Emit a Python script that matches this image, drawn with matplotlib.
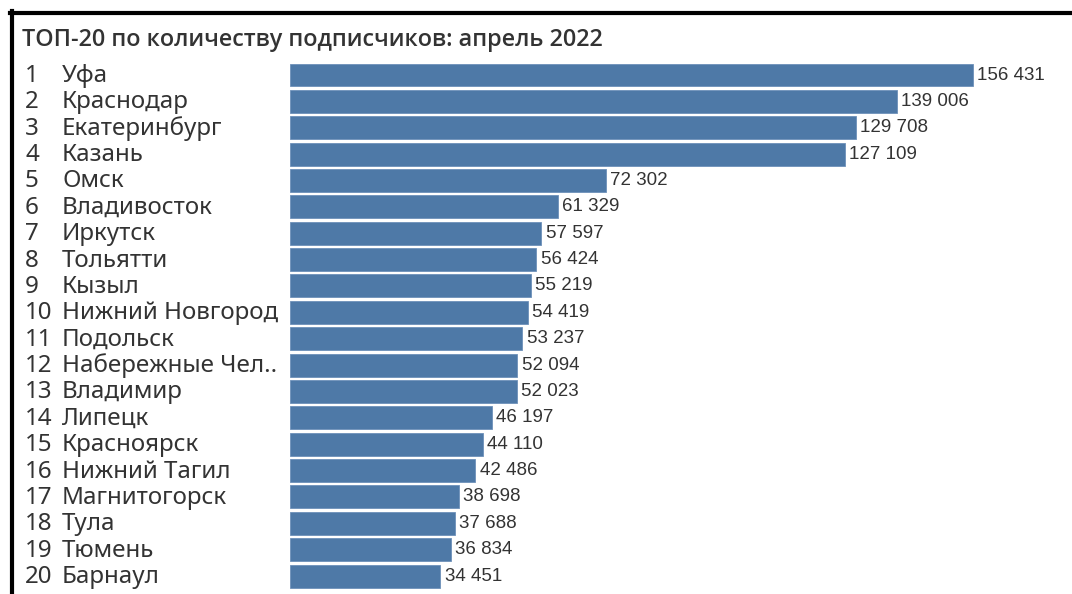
import matplotlib
matplotlib.use("Agg")
import matplotlib.pyplot as plt
from matplotlib.lines import Line2D

# данные
ranks = list(range(1, 21))
cities = ["Уфа", "Краснодар", "Екатеринбург", "Казань", "Омск", "Владивосток",
          "Иркутск", "Тольятти", "Кызыл", "Нижний Новгород", "Подольск",
          "Набережные Чел..", "Владимир", "Липецк", "Красноярск", "Нижний Тагил",
          "Магнитогорск", "Тула", "Тюмень", "Барнаул"]
subscribers = [156431, 139006, 129708, 127109, 72302, 61329, 57597, 56424, 55219,
               54419, 53237, 52094, 52023, 46197, 44110, 42486, 38698, 37688,
               36834, 34451]
title = "ТОП-20 по количеству подписчиков: апрель 2022"

W, H = 1072, 594
BAR_COLOR = "#4e79a7"
TEXT_COLOR = "#333333"
LABEL_FONT = ["Noto Sans", "DejaVu Sans"]
TITLE_FONT = ["Open Sans", "DejaVu Sans"]
VALUE_FONT = ["Liberation Sans Narrow", "Liberation Sans", "DejaVu Sans"]

fig = plt.figure(figsize=(W / 100, H / 100), dpi=100)
fig.patch.set_facecolor("white")

# ось в пикселях: бары от x=290, первый бар заканчивается на x=973
ax_left, ax_right = 290, 1072
row_top, row_step = 75 - 26.37 / 2, 26.37
ax_top = row_top
ax_bottom = row_top + row_step * len(cities)
ax = fig.add_axes([ax_left / W, 1 - ax_bottom / H,
                   (ax_right - ax_left) / W, (ax_bottom - ax_top) / H])

ypos = list(range(len(cities)))
ax.barh(ypos, subscribers, height=0.87, color=BAR_COLOR,
        edgecolor="#6d90b9", linewidth=0.6)
ax.set_xlim(0, subscribers[0] * (ax_right - ax_left) / (973 - 290))
ax.set_ylim(len(cities) - 0.5, -0.5)
ax.axis("off")

# подписи значений
for y, v in zip(ypos, subscribers):
    ax.annotate(f"{v:,}".replace(",", " "), (v, y), xytext=(3, 0),
                textcoords="offset points", va="center", ha="left",
                fontsize=13.5, family=VALUE_FONT, color=TEXT_COLOR)

# номера и названия городов
for y, r, c in zip(ypos, ranks, cities):
    yy = 1 - (row_top + row_step * (y + 0.5) + 1) / H
    fig.text(25 / W, yy, str(r), ha="left", va="center", fontsize=17.4,
             family=LABEL_FONT, color=TEXT_COLOR)
    fig.text(62 / W, yy, c, ha="left", va="center", fontsize=17.4,
             family=LABEL_FONT, color=TEXT_COLOR)

fig.text(22 / W, 1 - 40 / H, title, ha="left", va="center", fontsize=16.8,
         fontweight="semibold", family=TITLE_FONT, color=TEXT_COLOR)

# чёрная рамка сверху и слева
fig.add_artist(Line2D([10 / W, 1], [1 - 13 / H, 1 - 13 / H], color="black",
                      linewidth=3, transform=fig.transFigure))
fig.add_artist(Line2D([12 / W, 12 / W], [1 - 11 / H, 0], color="black",
                      linewidth=3, transform=fig.transFigure))

fig.savefig("out.png", dpi=100)
